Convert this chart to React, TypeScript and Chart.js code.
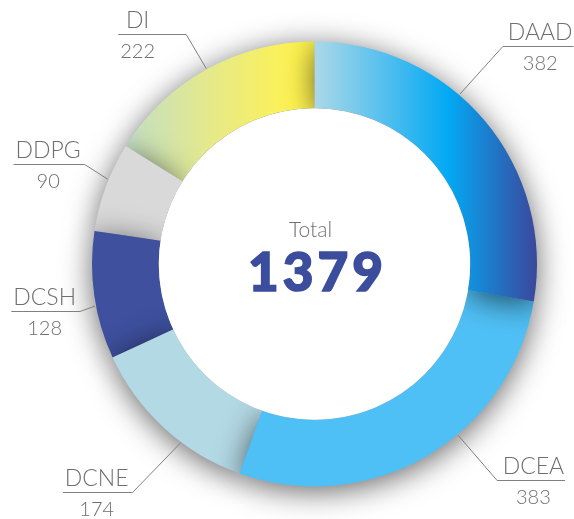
import React, { useEffect, useRef } from "react";
import { Chart, registerables } from "chart.js";

Chart.register(...registerables);

// ---- data ----
const categories: string[] = ["DAAD", "DCEA", "DCNE", "DCSH", "DDPG", "DI"];
const values: number[] = [382, 383, 174, 128, 90, 222];
const centerTitle = "Total";

// ---- label layout (styling, not data) ----
const labelAngleShiftDeg: number[] = [-9.3, -9.7, -5.6, -2.7, 2, 0];
const leaderDX: number[] = [43, 39, -48, -15, -23, -20];
const leaderDY: number[] = [-48, 45, 49, 5, -15, -34];

const FONT = "Lato, 'Open Sans', sans-serif";
const TEXT_GREY = "#6f6f6f";
const LINE_GREY = "#808080";
const NAVY = "#3b4d9c";

function makeFill(ctx: CanvasRenderingContext2D, area: any, i: number): any {
  const cx = (area.left + area.right) / 2;
  const R = Math.min(area.width, area.height) / 2;
  if (i === 0) {
    const g = ctx.createLinearGradient(cx, 0, cx + R, 0);
    g.addColorStop(0, "#acd8e8");
    g.addColorStop(0.6, "#03a9f4");
    g.addColorStop(1, "#3b479c");
    return g;
  }
  if (i === 1) return "#4fc0f6";
  if (i === 2) return "#b3d9e5";
  if (i === 3) return "#3e509e";
  if (i === 4) return "#d9d9d9";
  const g = ctx.createLinearGradient(cx - R * 0.85, 0, cx - R * 0.08, 0);
  g.addColorStop(0, "#c2dfc6");
  g.addColorStop(0.5, "#e6e98a");
  g.addColorStop(1, "#fff350");
  return g;
}

const shadowPlugin = {
  id: "shadowArcs",
  beforeDatasetDraw(chart: any) {
    const ctx: CanvasRenderingContext2D = chart.ctx;
    const meta = chart.getDatasetMeta(0);
    if (!meta.data.length) return false;
    const first = meta.data[0];
    const { x, y, innerRadius } = first.getProps(["x", "y", "innerRadius"], true);
    ctx.save();
    ctx.beginPath();
    ctx.rect(0, 0, chart.width, chart.height);
    ctx.arc(x, y, innerRadius, 0, Math.PI * 2, true);
    ctx.clip("evenodd");
    ctx.shadowColor = "rgba(0,0,0,0.6)";
    ctx.shadowBlur = 30;
    ctx.shadowOffsetX = 0;
    ctx.shadowOffsetY = 5;
    for (let i = meta.data.length - 1; i >= 0; i--) {
      meta.data[i].draw(ctx);
    }
    ctx.restore();
    return false;
  },
};

const labelPlugin = {
  id: "outerLabels",
  afterDraw(chart: any) {
    const ctx: CanvasRenderingContext2D = chart.ctx;
    const meta = chart.getDatasetMeta(0);
    const data: number[] = chart.data.datasets[0].data;
    const labels: string[] = chart.data.labels;
    let cx = 0, cy = 0;
    meta.data.forEach((arc: any, i: number) => {
      const { x, y, startAngle, endAngle, outerRadius } = arc.getProps(
        ["x", "y", "startAngle", "endAngle", "outerRadius"],
        true
      );
      cx = x; cy = y;
      const mid = (startAngle + endAngle) / 2 + (labelAngleShiftDeg[i] * Math.PI) / 180;
      const cos = Math.cos(mid), sin = Math.sin(mid);
      const ax = x + cos * (outerRadius + 1);
      const ay = y + sin * (outerRadius + 1);
      const ex = ax + leaderDX[i];
      const ey = Math.round(ay + leaderDY[i]) + 0.5;
      const right = cos > 0;

      ctx.save();
      ctx.font = `300 23px ${FONT}`;
      const w1 = ctx.measureText(labels[i]).width;
      ctx.font = `300 20px ${FONT}`;
      const w2 = ctx.measureText(String(data[i])).width;
      const block = Math.max(w1, w2);
      const lineLen = Math.max(68, block + 6);
      const endX = right ? ex + lineLen : ex - lineLen;

      ctx.strokeStyle = LINE_GREY;
      ctx.lineWidth = 1;
      ctx.beginPath();
      ctx.moveTo(ax, ay);
      ctx.lineTo(ex, ey);
      ctx.lineTo(endX, ey);
      ctx.stroke();

      const tx = right ? endX - block / 2 - 1 : endX + block / 2 + 2;
      ctx.fillStyle = TEXT_GREY;
      ctx.textAlign = "center";
      ctx.textBaseline = "alphabetic";
      ctx.font = `300 23px ${FONT}`;
      ctx.fillText(labels[i], tx, ey - 7);
      ctx.font = `300 20px ${FONT}`;
      ctx.fillText(String(data[i]), tx, ey + 23);
      ctx.restore();
    });

    const total = data.reduce((a, b) => a + b, 0);
    ctx.save();
    ctx.textAlign = "center";
    ctx.textBaseline = "alphabetic";
    ctx.fillStyle = TEXT_GREY;
    ctx.font = `300 21px ${FONT}`;
    ctx.fillText(centerTitle, cx - 4, cy - 27);
    ctx.fillStyle = NAVY;
    ctx.strokeStyle = NAVY;
    ctx.lineWidth = 1.6;
    ctx.font = `900 53px ${FONT}`;
    (ctx as any).letterSpacing = "4px";
    ctx.fillText(String(total), cx + 3, cy + 27);
    ctx.strokeText(String(total), cx + 3, cy + 27);
    ctx.restore();
  },
};

export default function App() {
  const ref = useRef<HTMLCanvasElement | null>(null);

  useEffect(() => {
    document.body.style.margin = "0";
    const canvas = ref.current;
    if (!canvas) return;
    const chart = new Chart(canvas, {
      type: "doughnut",
      data: {
        labels: categories,
        datasets: [
          {
            data: values,
            borderWidth: 0,
            backgroundColor: (c: any) => {
              const area = c.chart.chartArea;
              if (!area) return "#cccccc";
              return makeFill(c.chart.ctx, area, c.dataIndex);
            },
          },
        ],
      },
      options: {
        responsive: false,
        animation: false,
        events: [],
        cutout: "70%",
        layout: { padding: { left: 92, right: 37, top: 41, bottom: 32 } },
        plugins: {
          legend: { display: false },
          tooltip: { enabled: false },
        },
      },
      plugins: [shadowPlugin, labelPlugin],
    });
    return () => chart.destroy();
  }, []);

  return (
    <div style={{ width: 574, height: 519, background: "#ffffff" }}>
      <canvas ref={ref} width={574} height={519} />
    </div>
  );
}
